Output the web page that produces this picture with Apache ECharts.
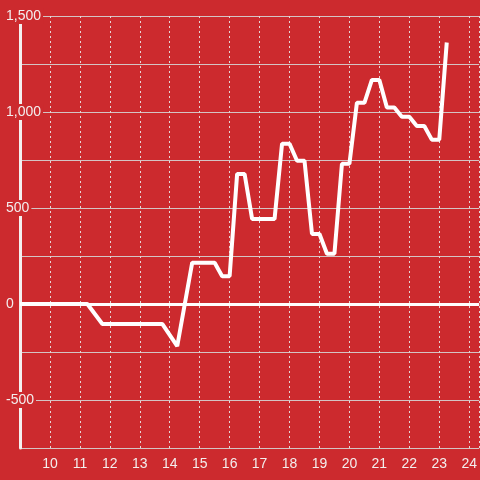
<!DOCTYPE html>
<html>
<head>
<meta charset="utf-8">
<script src="https://cdn.jsdelivr.net/npm/echarts@6/dist/echarts.min.js"></script>
<style>
  html, body { margin: 0; padding: 0; background: #cc2a2e; }
  #chart { width: 480px; height: 480px; }
</style>
</head>
<body>
<div id="chart"></div>
<script>
    // hours of the day (quarter-hour steps where the line turns)
    var hours = [9, 11.25, 11.75, 13.75, 14.25, 14.75, 15.5, 15.75, 16, 16.25, 16.5, 16.75,
        17.5, 17.75, 18, 18.25, 18.5, 18.75, 19, 19.25, 19.5, 19.75, 20, 20.25, 20.5, 20.75,
        21, 21.25, 21.5, 21.75, 22, 22.25, 22.5, 22.75, 23, 23.25];
    var values = [0, 0, -104, -104, -220, 215, 215, 145, 145, 677, 677, 443,
        443, 835, 835, 746, 746, 365, 365, 262, 262, 730, 730, 1048, 1048, 1167,
        1167, 1024, 1024, 975, 975, 927, 927, 856, 856, 1362];
    var yTicks = [-750, 1500, 250];   // min, max, step
    var xTicks = [9, 24.333, 1];

    var lineData = [];
    for (var i = 0; i < hours.length; i++) {
        lineData.push([hours[i], values[i]]);
    }

    var chart = echarts.init(document.getElementById('chart'));
    var textColor = '#f3eeee';

    var option = {
        backgroundColor: '#cc2a2e',
        animation: false,
        textStyle: { fontFamily: 'Liberation Sans, Arial, sans-serif' },
        grid: { left: 20, right: 0, top: 16, bottom: 32, containLabel: false },
        xAxis: {
            type: 'value',
            min: xTicks[0],
            max: xTicks[1],
            interval: xTicks[2],
            axisLine: { show: false },
            axisTick: { show: false },
            axisLabel: {
                color: textColor,
                fontSize: 14,
                margin: 9,
                showMinLabel: false,
                showMaxLabel: false
            },
            splitLine: {
                show: true,
                lineStyle: { color: '#e6d6d6', width: 1, type: [2, 3] }
            }
        },
        yAxis: {
            type: 'value',
            min: yTicks[0],
            max: yTicks[1],
            interval: yTicks[2],
            axisLine: { show: true, lineStyle: { color: '#f4f0f0', width: 3 } },
            axisTick: { show: false },
            axisLabel: {
                align: 'left',
                margin: 14,
                formatter: function (v) {
                    if (v % 500 !== 0) return '';
                    return '{b|' + v.toLocaleString('en-US') + '}';
                },
                rich: {
                    b: {
                        color: textColor,
                        fontSize: 14,
                        backgroundColor: '#cc2a2e',
                        padding: [1, 2, 1, 0]
                    }
                }
            },
            splitLine: {
                show: true,
                lineStyle: { color: '#d4c4c4', width: 1 }
            }
        },
        series: [
            {
                type: 'line',
                data: lineData,
                showSymbol: false,
                symbol: 'none',
                lineStyle: { color: '#ffffff', width: 4 },
                markLine: {
                    silent: true,
                    symbol: 'none',
                    label: { show: false },
                    lineStyle: { color: '#ffffff', width: 3, type: 'solid' },
                    data: [{ yAxis: 0 }]
                }
            }
        ]
    };

    chart.setOption(option);
</script>
</body>
</html>
